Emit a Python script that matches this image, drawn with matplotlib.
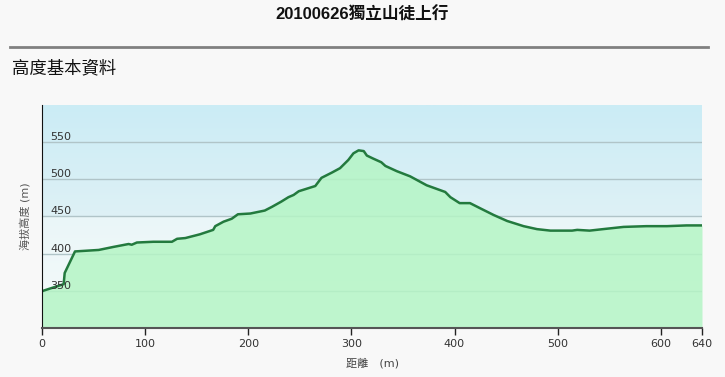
import numpy as np
import matplotlib
matplotlib.use("Agg")
from matplotlib import pyplot as plt
from matplotlib.colors import LinearSegmentedColormap

plt.rcParams["font.family"] = ["DejaVu Sans", "Noto Sans CJK TC"]

# 距離 (m) 與 海拔高度 (m)
distance = [0, 1, 21, 22, 32, 55, 69, 84, 87, 92, 108, 126, 131, 139, 153, 166,
            168, 176, 184, 190, 202, 216, 223, 232, 239, 244, 249, 265, 271,
            281, 289, 297, 302, 307, 312, 315, 321, 329, 333, 344, 357, 373,
            391, 396, 405, 415, 425, 438, 451, 467, 480, 493, 514, 519, 531,
            544, 564, 586, 606, 625, 640]
elevation = [349, 350, 359, 374, 403, 405, 409, 413, 412, 415, 416, 416, 420,
             421, 426, 432, 437, 443, 447, 453, 454, 458, 463, 470, 476, 479,
             484, 491, 502, 509, 515, 526, 535, 539, 538, 532, 528, 523, 518,
             511, 504, 492, 483, 476, 468, 468, 461, 452, 444, 437, 433, 431,
             431, 432, 431, 433, 436, 437, 437, 438, 438]
yticks = [350, 400, 450, 500, 550]
xticks = [0, 100, 200, 300, 400, 500, 600, 640]

fig = plt.figure(figsize=(7.25, 3.77), dpi=100, facecolor="#f8f8f8")

# 標題與分隔線
fig.text(0.5, 1 - 15 / 377, "20100626獨立山徒上行", ha="center", va="center",
         fontsize=12, fontweight="bold",
         family=["Liberation Sans", "Noto Sans CJK TC"], color="#111111")
fig.add_artist(plt.Line2D([10 / 725, 708 / 725], [1 - 47 / 377, 1 - 47 / 377],
                          color="#808080", linewidth=2))
fig.text(12 / 725, 1 - 68 / 377, "高度基本資料", ha="left", va="center",
         fontsize=12.5, family=["Noto Sans CJK TC"], color="#111111")

ax = fig.add_axes([42 / 725, 1 - 328 / 377, 660 / 725, 223 / 377])
ax.set_xlim(0, 640)
ax.set_ylim(300, 600)

# 背景漸層
cmap = LinearSegmentedColormap.from_list(
    "bg", [(0, "#f6fbfb"), (0.5, "#eaf6f8"), (0.5, "#def1f6"), (1, "#cbecf5")])
grad = np.linspace(0, 1, 300).reshape(-1, 1)
ax.imshow(grad, cmap=cmap, aspect="auto", extent=[0, 640, 300, 600],
          origin="lower", zorder=0)

for y in yticks:
    ax.axhline(y, color="#b0c4c8", linewidth=1, zorder=1)

ax.fill_between(distance, elevation, 300, color="#b5f5c5", alpha=0.85,
                linewidth=0, zorder=2)
ax.plot(distance, elevation, color="#237a3e", linewidth=1.8, zorder=2.4)

ax.set_yticks(yticks)
ax.tick_params(axis="y", length=0, pad=-6, labelsize=8, labelcolor="#333333")
for lab in ax.get_yticklabels():
    lab.set_horizontalalignment("left")
    lab.set_verticalalignment("bottom")
ax.yaxis.set_zorder(5)

ax.set_xticks(xticks)
ax.tick_params(axis="x", length=5, width=1, color="#222222", labelsize=8,
               labelcolor="#333333", pad=3)

ax.set_xlabel("距離　(m)", fontsize=8, color="#444444", labelpad=6)
ax.set_ylabel("海拔高度 (m)", fontsize=8, color="#555555", labelpad=8)

for side in ["top", "right"]:
    ax.spines[side].set_visible(False)
ax.spines["left"].set_color("#111111")
ax.spines["bottom"].set_color("#555555")
ax.spines["bottom"].set_linewidth(1.5)

plt.savefig("out.png", dpi=100, facecolor=fig.get_facecolor())
